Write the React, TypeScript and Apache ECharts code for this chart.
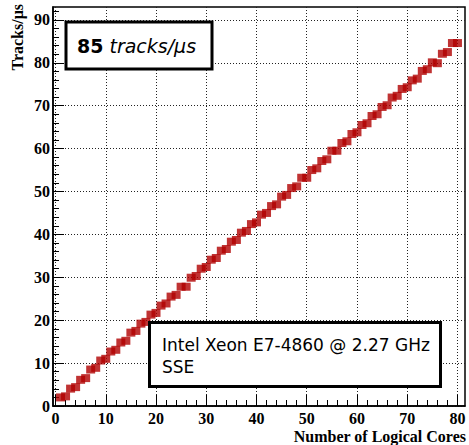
import React, { useEffect, useRef } from "react";
import * as echarts from "echarts";

const cores = [
  1, 2, 3, 4, 5, 6, 7, 8, 9, 10, 11, 12, 13, 14, 15, 16, 17, 18, 19, 20,
  21, 22, 23, 24, 25, 26, 27, 28, 29, 30, 31, 32, 33, 34, 35, 36, 37, 38, 39, 40,
  41, 42, 43, 44, 45, 46, 47, 48, 49, 50, 51, 52, 53, 54, 55, 56, 57, 58, 59, 60,
  61, 62, 63, 64, 65, 66, 67, 68, 69, 70, 71, 72, 73, 74, 75, 76, 77, 78, 79, 80,
];

const tracksPerUs = [
  2.0, 2.25, 4.05, 4.4, 6.1, 6.5, 8.5, 8.9, 10.6, 11.0,
  12.7, 13.1, 14.8, 15.2, 17.1, 17.5, 19.2, 19.6, 21.3, 21.7,
  23.4, 23.9, 25.5, 25.9, 27.8, 27.8, 29.9, 30.3, 32.0, 32.4,
  34.1, 34.5, 36.2, 36.6, 38.3, 38.7, 40.4, 40.8, 42.4, 42.8,
  44.6, 45.0, 46.6, 47.0, 48.8, 49.2, 50.8, 51.2, 53.2, 53.2,
  55.0, 55.4, 57.1, 57.5, 59.5, 59.5, 61.3, 61.7, 63.4, 63.8,
  65.5, 65.9, 67.6, 68.0, 69.7, 70.1, 71.9, 72.3, 73.9, 74.3,
  75.9, 76.3, 78.1, 78.5, 80.1, 79.9, 82.1, 82.5, 84.6, 84.6,
];

const xMajorTicks = [0, 10, 20, 30, 40, 50, 60, 70, 80];
const xMinorTicks = [
  2, 4, 6, 8, 12, 14, 16, 18, 22, 24, 26, 28, 32, 34, 36, 38,
  42, 44, 46, 48, 52, 54, 56, 58, 62, 64, 66, 68, 72, 74, 76, 78,
];
const yMajorTicks = [0, 10, 20, 30, 40, 50, 60, 70, 80, 90];
const yMinorTicks = [
  2, 4, 6, 8, 12, 14, 16, 18, 22, 24, 26, 28, 32, 34, 36, 38,
  42, 44, 46, 48, 52, 54, 56, 58, 62, 64, 66, 68, 72, 74, 76, 78,
  82, 84, 86, 88, 92,
];

const xTitle = "Number of Logical Cores";
const yTitle = "Tracks/μs";
const rateValue = "85";
const rateUnit = "tracks/μs";
const cpuLine = "Intel Xeon E7-4860 @ 2.27 GHz";
const isaLine = "SSE";

const SERIF = "'Liberation Serif', 'Times New Roman', serif";
const SANS = "'DejaVu Sans', sans-serif";

export default function App() {
  const ref = useRef<HTMLDivElement>(null);

  useEffect(() => {
    document.body.style.margin = "0";
    const chart = echarts.init(ref.current!, undefined, { renderer: "svg" });
    const gridLine = { show: true, lineStyle: { color: "#222", width: 1, type: [1, 2] as any } };
    const labelStyle = {
      fontFamily: SERIF,
      fontWeight: "bold" as const,
      fontSize: 16,
      color: "#000",
    };
    chart.setOption({
      animation: false,
      backgroundColor: "#fff",
      grid: {
        left: 53,
        right: 4,
        top: 7,
        bottom: 39,
        show: true,
        borderColor: "#000",
        borderWidth: 1.5,
        backgroundColor: "transparent",
      },
      xAxis: [
        {
          type: "value",
          min: -0.5,
          max: 81.5,
          position: "bottom",
          axisLine: { show: true, onZero: false, lineStyle: { color: "#000", width: 1.5 } },
          axisTick: {
            show: true,
            inside: true,
            length: 11,
            customValues: xMajorTicks,
            lineStyle: { color: "#000", width: 1 },
          },
          axisLabel: { ...labelStyle, margin: 4, customValues: xMajorTicks },
          splitLine: gridLine,
        },
        {
          type: "value",
          min: -0.5,
          max: 81.5,
          position: "bottom",
          axisLine: { show: false, onZero: false },
          axisTick: {
            show: true,
            inside: true,
            length: 6,
            customValues: xMinorTicks,
            lineStyle: { color: "#000", width: 1 },
          },
          axisLabel: { show: false },
          splitLine: { show: false },
        },
      ],
      yAxis: [
        {
          type: "value",
          min: 0,
          max: 93,
          position: "left",
          axisLine: { show: true, onZero: false, lineStyle: { color: "#000", width: 1.5 } },
          axisTick: {
            show: true,
            inside: true,
            length: 11,
            customValues: yMajorTicks,
            lineStyle: { color: "#000", width: 1 },
          },
          axisLabel: { ...labelStyle, margin: 3, customValues: yMajorTicks },
          splitLine: gridLine,
        },
        {
          type: "value",
          min: 0,
          max: 93,
          position: "left",
          axisLine: { show: false, onZero: false },
          axisTick: {
            show: true,
            inside: true,
            length: 6,
            customValues: yMinorTicks,
            lineStyle: { color: "#000", width: 1 },
          },
          axisLabel: { show: false },
          splitLine: { show: false },
        },
      ],
      series: [
        {
          type: "scatter",
          xAxisIndex: 0,
          yAxisIndex: 0,
          symbol: "rect",
          symbolSize: [9, 8],
          itemStyle: { color: "#b00000" },
          data: cores.map((c, i) => [c, tracksPerUs[i]]),
          z: 3,
        },
      ],
      graphic: [
        {
          type: "text",
          x: 17,
          y: 4,
          rotation: Math.PI / 2,
          style: {
            text: yTitle,
            fontFamily: SERIF,
            fontWeight: "bold",
            fontSize: 16,
            fill: "#000",
            align: "right",
            verticalAlign: "middle",
          },
        },
        {
          type: "text",
          x: 466,
          y: 436,
          style: {
            text: xTitle,
            fontFamily: SERIF,
            fontWeight: "bold",
            fontSize: 16,
            fill: "#000",
            align: "right",
            verticalAlign: "middle",
          },
        },
        {
          type: "rect",
          shape: { x: 66, y: 22, width: 146, height: 47 },
          style: { fill: "#fff", stroke: "#000", lineWidth: 3 },
          z: 10,
        },
        {
          type: "text",
          x: 77,
          y: 46,
          z: 11,
          style: {
            text: `{b|${rateValue}} {i|${rateUnit}}`,
            fontFamily: SANS,
            fontSize: 19,
            fill: "#000",
            verticalAlign: "middle",
            rich: {
              b: { fontFamily: SANS, fontSize: 19, fontWeight: "bold", fill: "#000" },
              i: { fontFamily: SANS, fontSize: 19, fontStyle: "italic", fill: "#000" },
            },
          },
        },
        {
          type: "rect",
          shape: { x: 149.5, y: 322.5, width: 291, height: 64 },
          style: { fill: "#fff", stroke: "#000", lineWidth: 3 },
          z: 10,
        },
        {
          type: "text",
          x: 162,
          y: 345,
          z: 11,
          style: {
            text: cpuLine,
            fontFamily: SANS,
            fontSize: 17,
            fill: "#000",
            verticalAlign: "middle",
          },
        },
        {
          type: "text",
          x: 162,
          y: 367,
          z: 11,
          style: {
            text: isaLine,
            fontFamily: SANS,
            fontSize: 17,
            fill: "#000",
            verticalAlign: "middle",
          },
        },
      ],
    });
    return () => chart.dispose();
  }, []);

  return (
    <div
      ref={ref}
      style={{ position: "fixed", left: 0, top: 0, width: 469, height: 445 }}
    />
  );
}
